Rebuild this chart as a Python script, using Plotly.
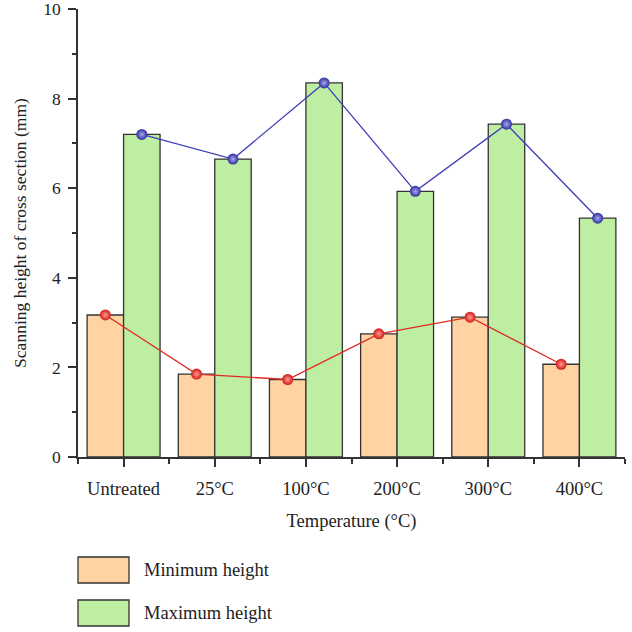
import plotly.graph_objects as go

categories = ["Untreated", "25°C", "100°C", "200°C", "300°C", "400°C"]
min_height = [3.17, 1.85, 1.73, 2.75, 3.12, 2.07]
max_height = [7.20, 6.65, 8.35, 5.93, 7.43, 5.33]
y_ticks = [0, 2, 4, 6, 8, 10]

FONT = "Liberation Serif"
AX = "#333333"
ORANGE = "#FFD3A2"
GREEN = "#BDEEA1"
FS = 18.5

x = list(range(len(categories)))

fig = go.Figure()
fig.add_trace(go.Bar(x=x, y=min_height, name="Minimum height", offsetgroup="a",
                     marker=dict(color=ORANGE, line=dict(color=AX, width=1.3)), showlegend=False))
fig.add_trace(go.Bar(x=x, y=max_height, name="Maximum height", offsetgroup="b",
                     marker=dict(color=GREEN, line=dict(color=AX, width=1.3)), showlegend=False))
fig.add_trace(go.Scatter(x=x, y=min_height, mode="lines+markers", offsetgroup="a",
                         line=dict(color="#E02A22", width=1.3),
                         marker=dict(size=11, color="#D01A1A",
                                     gradient=dict(type="radial", color="#FF9A90"),
                                     line=dict(width=0)), showlegend=False))
fig.add_trace(go.Scatter(x=x, y=max_height, mode="lines+markers", offsetgroup="b",
                         line=dict(color="#3F3FB8", width=1.3),
                         marker=dict(size=11, color="#2E2EA0",
                                     gradient=dict(type="radial", color="#A8A8EC"),
                                     line=dict(width=0)), showlegend=False))

W, H = 632, 632
L, R, T, B = 78, 7, 9, 175
def px(xp):
    return (xp - L) / (W - L - R)
def py(yp):
    return (H - B - yp) / (H - T - B)

shapes = []
annotations = []
legend_items = [("Minimum height", ORANGE, 557), ("Maximum height", GREEN, 600)]
for label, col, top in legend_items:
    shapes.append(dict(type="rect", xref="paper", yref="paper",
                       x0=px(78), x1=px(129), y0=py(top + 26), y1=py(top),
                       fillcolor=col, line=dict(color=AX, width=1.3)))
    annotations.append(dict(xref="paper", yref="paper", x=px(142), y=py(top + 13),
                            text=label, showarrow=False, xanchor="left", yanchor="middle",
                            font=dict(family=FONT, size=FS, color="#222")))

fig.update_layout(
    width=W, height=H,
    margin=dict(l=L, r=R, t=T, b=B, autoexpand=False),
    paper_bgcolor="white", plot_bgcolor="white",
    barmode="group", bargap=0.2, bargroupgap=0,
    scattermode="group",
    font=dict(family=FONT, size=FS, color="#222"),
    shapes=shapes, annotations=annotations,
)
fig.update_xaxes(range=[-0.5, 5.5], tickmode="array", tickvals=x, ticktext=categories,
                 showline=True, linecolor=AX, linewidth=1.5, ticks="outside",
                 ticklen=8, tickwidth=1.5, tickcolor=AX, showgrid=False, zeroline=False,
                 minor=dict(tickmode="linear", tick0=-0.5, dtick=1, ticks="outside",
                            ticklen=5, tickwidth=1.5, tickcolor=AX),
                 ticklabelstandoff=6, ticklabeloverflow="allow", automargin=False,
                 title=dict(text="Temperature (°C)", font=dict(size=FS), standoff=16),
                 tickfont=dict(size=FS))
fig.update_yaxes(range=[0, 10], tickmode="array", tickvals=y_ticks,
                 showline=True, linecolor=AX, linewidth=1.5, ticks="outside",
                 ticklen=8, tickwidth=1.5, tickcolor=AX, showgrid=False, zeroline=False,
                 minor=dict(tickmode="linear", tick0=1, dtick=2, ticks="outside",
                            ticklen=4, tickwidth=1.5, tickcolor=AX),
                 ticklabelstandoff=4, ticklabeloverflow="allow", automargin=False,
                 title=dict(text="Scanning height of cross section (mm)", font=dict(size=17.5), standoff=12),
                 tickfont=dict(size=17.5))

fig.write_html("out.html")
